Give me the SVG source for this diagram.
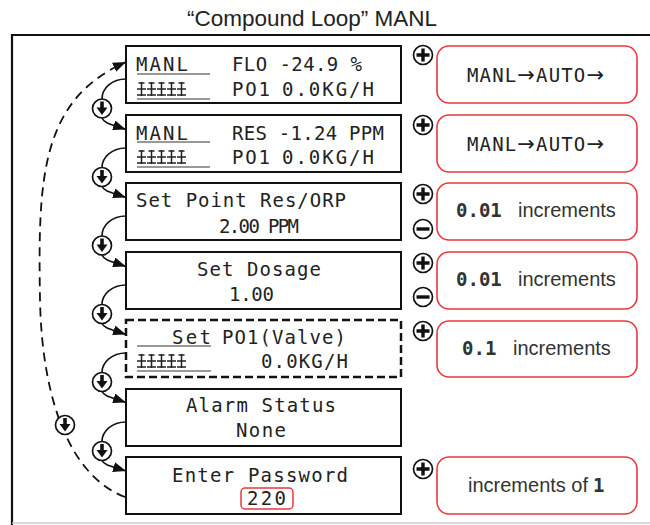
<svg xmlns="http://www.w3.org/2000/svg" width="650" height="525" viewBox="0 0 650 525">
<style>
.lcd{fill:none;stroke:#111;stroke-width:2}
.lcdd{fill:none;stroke:#111;stroke-width:2.5;stroke-dasharray:8 4}
.red{fill:#fff;stroke:#e8383d;stroke-width:1.6}
.t{font-family:"DejaVu Sans Mono","Liberation Mono",monospace;font-size:19px;fill:#222}
.tb{font-family:"DejaVu Sans Mono","Liberation Mono",monospace;font-size:19px;font-weight:bold;fill:#333}
.s{font-family:"Liberation Sans",Arial,sans-serif;font-size:20px;fill:#333}
.ar{font-family:"DejaVu Sans",sans-serif;font-size:21px}
.ul{stroke:#777;stroke-width:1.5}
.bar{stroke:#222;stroke-width:1.5}
.con{fill:none;stroke:#111;stroke-width:1.6}
.dash{fill:none;stroke:#111;stroke-width:1.8;stroke-dasharray:9 6}
.ic{fill:#fff;stroke:#111;stroke-width:1.7}
.pm{stroke:#111;stroke-width:3.4}
</style>
<defs>
<marker id="ah" markerUnits="userSpaceOnUse" markerWidth="14" markerHeight="11" refX="13" refY="5" orient="auto">
<path d="M0,0 L13,5 L0,10 z" fill="#111"/>
</marker>
<g id="down">
<circle r="9.5" class="ic"/>
<rect x="-1.8" y="-7" width="3.6" height="7" fill="#111"/>
<path d="M-5.5,-1 L5.5,-1 L0,6.5 z" fill="#111"/>
</g>
<g id="plus">
<circle r="9.5" class="ic"/>
<path d="M-6.5,0 H6.5 M0,-6.5 V6.5" class="pm"/>
</g>
<g id="minus">
<circle r="9.5" class="ic"/>
<path d="M-6.5,0 H6.5" class="pm"/>
</g>
<g id="bars">
<path d="M1.5,-13 H7.5 M0,-7 H9 M0,-1 H9 M4.5,-14 V0 M11.5,-13 H17.5 M10,-7 H19 M10,-1 H19 M14.5,-14 V0 M21.5,-13 H27.5 M20,-7 H29 M20,-1 H29 M24.5,-14 V0 M31.5,-13 H37.5 M30,-7 H39 M30,-1 H39 M34.5,-14 V0 M41.5,-13 H47.5 M40,-7 H49 M40,-1 H49 M44.5,-14 V0" class="bar"/>
</g>
</defs>
<rect width="650" height="525" fill="#fff"/>
<text x="312" y="26" text-anchor="middle" font-family="Liberation Sans, Arial, sans-serif" font-size="22.5" fill="#222">“Compound Loop” MANL</text>
<g id="frame">
<path d="M12,525 V35 H650" fill="none" stroke="#111" stroke-width="2.2"/>
<path d="M12,523 H650" stroke="#ccc" stroke-width="1.5"/>
</g>

<g id="connectors">
<path class="con" d="M126,79 C112,79 102,88 102,99" />
<path class="con" d="M102,118 C104,123 110,124 126,129.5" marker-end="url(#ah)"/>
<path class="con" d="M126,148 C112,148 102,157 102,167.5" />
<path class="con" d="M102,186.5 C104,191 110,192 126,197.5" marker-end="url(#ah)"/>
<path class="con" d="M126,216 C112,216 102,225 102,236" />
<path class="con" d="M102,255 C104,260 110,261 126,266.5" marker-end="url(#ah)"/>
<path class="con" d="M126,285 C112,285 102,294 102,304.5" />
<path class="con" d="M102,323.5 C104,328 110,329 126,334.5" marker-end="url(#ah)"/>
<path class="con" d="M126,353 C112,353 102,362 102,372.5" />
<path class="con" d="M102,391.5 C104,396 110,397 126,402.5" marker-end="url(#ah)"/>
<path class="con" d="M126,422 C112,422 102,431 102,441.5" />
<path class="con" d="M102,460.5 C104,465 110,466 126,471" marker-end="url(#ah)"/>
<path class="dash" d="M125,497 C70,476 42,400 40,300 C38,180 40,100 126,62" marker-end="url(#ah)"/>
<use href="#down" x="102" y="108.5"/>
<use href="#down" x="102" y="177"/>
<use href="#down" x="102" y="245.5"/>
<use href="#down" x="102" y="314"/>
<use href="#down" x="102" y="382"/>
<use href="#down" x="102" y="451"/>
<use href="#down" x="65" y="425"/>
</g>

<g id="lcd1">
<rect x="126" y="46" width="275" height="57" class="lcd"/>
<text class="t" x="136" y="71" textLength="52" lengthAdjust="spacing">MANL</text>
<text class="t" x="232" y="71" textLength="130" lengthAdjust="spacing">FLO -24.9 %</text>
<line x1="137" y1="74" x2="210" y2="74" class="ul"/>
<use href="#bars" x="137" y="96"/>
<line x1="137" y1="99" x2="210" y2="99" class="ul"/>
<text class="t" x="232" y="96" textLength="38" lengthAdjust="spacing">PO1</text>
<text class="t" x="282" y="96" textLength="92" lengthAdjust="spacing">0.0KG/H</text>
</g>
<g id="lcd2">
<rect x="126" y="115" width="275" height="57" class="lcd"/>
<text class="t" x="136" y="140" textLength="52" lengthAdjust="spacing">MANL</text>
<text class="t" x="232" y="140" textLength="152" lengthAdjust="spacing">RES -1.24 PPM</text>
<line x1="137" y1="142" x2="210" y2="142" class="ul"/>
<use href="#bars" x="137" y="164"/>
<line x1="137" y1="167" x2="210" y2="167" class="ul"/>
<text class="t" x="232" y="164" textLength="38" lengthAdjust="spacing">PO1</text>
<text class="t" x="282" y="164" textLength="92" lengthAdjust="spacing">0.0KG/H</text>
</g>
<g id="lcd3">
<rect x="126" y="183" width="275" height="57" class="lcd"/>
<text class="t" x="136" y="207" textLength="210" lengthAdjust="spacing">Set Point Res/ORP</text>
<text class="t" x="219" y="233" textLength="80" lengthAdjust="spacing">2.00 PPM</text>
</g>
<g id="lcd4">
<rect x="126" y="252" width="275" height="57" class="lcd"/>
<text class="t" x="197" y="276" textLength="124" lengthAdjust="spacing">Set Dosage</text>
<text class="t" x="229" y="301" textLength="45" lengthAdjust="spacing">1.00</text>
</g>
<g id="lcd5">
<rect x="126" y="320" width="275" height="57" class="lcdd"/>
<text class="t" x="172" y="344" textLength="39" lengthAdjust="spacing">Set</text>
<text class="t" x="222" y="344" textLength="124" lengthAdjust="spacing">PO1(Valve)</text>
<line x1="137" y1="346" x2="211" y2="346" class="ul"/>
<use href="#bars" x="137" y="368"/>
<line x1="137" y1="371" x2="211" y2="371" class="ul"/>
<text class="t" x="261" y="368" textLength="87" lengthAdjust="spacing">0.0KG/H</text>
</g>
<g id="lcd6">
<rect x="126" y="389" width="275" height="57" class="lcd"/>
<text class="t" x="186" y="412" textLength="150" lengthAdjust="spacing">Alarm Status</text>
<text class="t" x="236" y="437" textLength="50" lengthAdjust="spacing">None</text>
</g>
<g id="lcd7">
<rect x="126" y="457" width="275" height="57" class="lcd"/>
<text class="t" x="172" y="482" textLength="176" lengthAdjust="spacing">Enter Password</text>
<rect x="241" y="488" width="52" height="21" rx="4" fill="none" stroke="#e8383d" stroke-width="1.5"/>
<text class="t" x="247" y="505" textLength="39" lengthAdjust="spacing">220</text>
</g>

<g id="opt1">
<rect x="437" y="46" width="200" height="57" rx="12" class="red"/>
<use href="#plus" x="423" y="55"/>
<text class="t" x="467" y="82" textLength="137" lengthAdjust="spacing">MANL<tspan class="ar">→</tspan>AUTO<tspan class="ar">→</tspan></text>
</g>
<g id="opt2">
<rect x="437" y="115" width="200" height="57" rx="12" class="red"/>
<use href="#plus" x="423" y="125"/>
<text class="t" x="467" y="151" textLength="137" lengthAdjust="spacing">MANL<tspan class="ar">→</tspan>AUTO<tspan class="ar">→</tspan></text>
</g>
<g id="opt3">
<rect x="437" y="183" width="200" height="57" rx="12" class="red"/>
<use href="#plus" x="423" y="194"/>
<use href="#minus" x="423" y="229"/>
<text class="tb" x="456" y="217">0.01</text>
<text class="s" x="518" y="217">increments</text>
</g>
<g id="opt4">
<rect x="437" y="252" width="200" height="57" rx="12" class="red"/>
<use href="#plus" x="423" y="263"/>
<use href="#minus" x="423" y="297"/>
<text class="tb" x="456" y="286">0.01</text>
<text class="s" x="518" y="286">increments</text>
</g>
<g id="opt5">
<rect x="437" y="321" width="200" height="56" rx="12" class="red"/>
<use href="#plus" x="423" y="331"/>
<text class="tb" x="462" y="355">0.1</text>
<text class="s" x="513" y="355">increments</text>
</g>
<g id="opt7">
<rect x="437" y="457" width="200" height="57" rx="12" class="red"/>
<use href="#plus" x="423" y="469"/>
<text class="s" x="468" y="492">increments of</text>
<text class="tb" x="593" y="492">1</text>
</g>
</svg>
